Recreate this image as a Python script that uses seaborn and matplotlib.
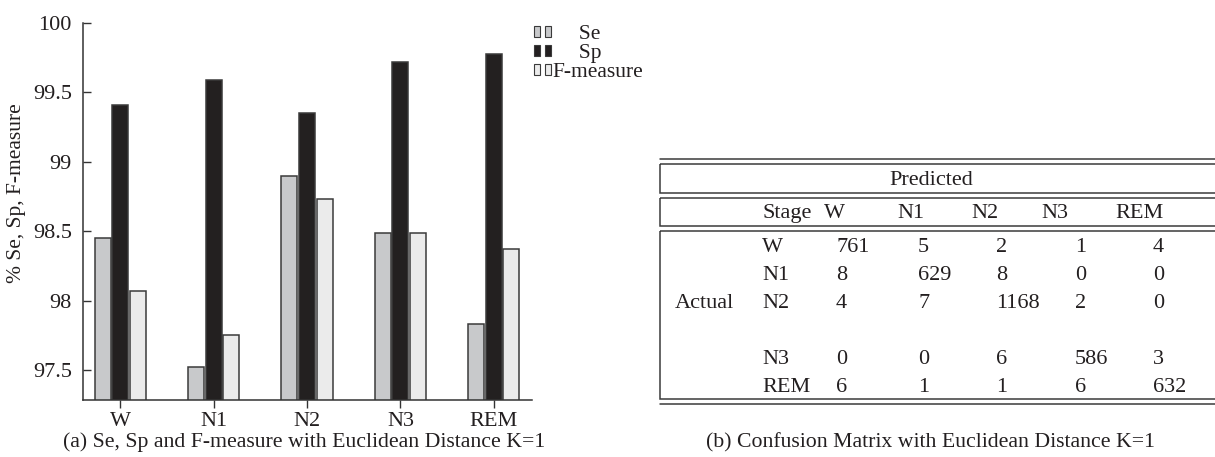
import matplotlib
matplotlib.use("Agg")
import matplotlib.pyplot as plt
import seaborn as sns
import pandas as pd
from matplotlib.patches import Patch, Rectangle
from matplotlib.lines import Line2D
from matplotlib.legend_handler import HandlerTuple

# ---------------- data ----------------
stages = ["W", "N1", "N2", "N3", "REM"]
se_values = [98.45, 97.52, 98.90, 98.49, 97.83]
sp_values = [99.41, 99.59, 99.35, 99.72, 99.78]
f_values = [98.07, 97.75, 98.73, 98.49, 98.37]
metric_names = ["Se", "Sp", "F-measure"]
ytick_values = [97.5, 98, 98.5, 99, 99.5, 100]
ytick_labels = ["97.5", "98", "98.5", "99", "99.5", "100"]

table_title = "Predicted"
table_header = ["Stage", "W", "N1", "N2", "N3", "REM"]
table_row_labels = ["W", "N1", "N2", "N3", "REM"]
conf_row_w = [761, 5, 2, 1, 4]
conf_row_n1 = [8, 629, 8, 0, 0]
conf_row_n2 = [4, 7, 1168, 2, 0]
conf_row_n3 = [0, 0, 6, 586, 3]
conf_row_rem = [6, 1, 1, 6, 632]
actual_label = "Actual"

caption_a = "(a) Se, Sp and F-measure with Euclidean Distance K=1"
caption_b = "(b) Confusion Matrix with Euclidean Distance K=1"

# ---------------- style ----------------
sns.set_style("white")
plt.rcParams["font.family"] = ["Liberation Serif", "DejaVu Serif"]
FS = 16
TXT = "#231f20"
colors = ["#c8c9cb", "#231f20", "#ebebeb"]

W_PX, H_PX = 1215, 457
fig = plt.figure(figsize=(W_PX / 100, H_PX / 100), dpi=100)

# ---------------- bar chart ----------------
ax_l, ax_r, ax_t, ax_b = 83, 532, 23, 400
ax = fig.add_axes([ax_l / W_PX, 1 - ax_b / H_PX, (ax_r - ax_l) / W_PX, (ax_b - ax_t) / H_PX])

df = pd.DataFrame({
    "stage": stages * 3,
    "metric": [m for m in metric_names for _ in stages],
    "value": se_values + sp_values + f_values,
})
sns.barplot(data=df, x="stage", y="value", hue="metric", order=stages,
            hue_order=metric_names, palette=colors, width=0.57, gap=0.1,
            edgecolor="#3a3a3a", linewidth=1.1, ax=ax, legend=False,
            errorbar=None)

ax.set_ylim(97.285, 100)
ax.set_xlim(-0.4, 4.41)
ax.set_yticks(ytick_values)
ax.set_yticklabels(ytick_labels)
ax.set_xlabel("")
ax.set_ylabel("% Se, Sp, F-measure", fontsize=15.5, color=TXT)
ax.yaxis.set_label_coords(-0.127, 0.55)
for s in ["top", "right"]:
    ax.spines[s].set_visible(False)
for s in ["left", "bottom"]:
    ax.spines[s].set_color("#333333")
    ax.spines[s].set_linewidth(1.1)
ax.tick_params(axis="y", direction="in", length=6, width=1, color="#333333",
               labelsize=FS, labelcolor=TXT, pad=8, left=True)
ax.tick_params(axis="x", direction="out", length=6, width=1, color="#333333",
               labelsize=FS, labelcolor=TXT, pad=3, bottom=True)

# legend with two-bar glyphs
handles = []
for c in colors:
    handles.append((Patch(facecolor=c, edgecolor="#3a3a3a", linewidth=0.8),
                    Patch(facecolor=c, edgecolor="#3a3a3a", linewidth=0.8)))
leg_labels = ["     Se", "     Sp", "F-measure"]
fig.legend(handles, leg_labels, loc="upper left",
           bbox_to_anchor=(534 / W_PX, 1 - 25 / H_PX),
           handler_map={tuple: HandlerTuple(ndivide=None, pad=0.2)},
           handlelength=0.8, handleheight=0.4, handletextpad=0.05,
           labelspacing=0.0, frameon=False, borderpad=0, borderaxespad=0,
           prop={"size": 15.5}, labelcolor=TXT)

# ---------------- table (pixel coordinates overlay) ----------------
tax = fig.add_axes([0, 0, 1, 1])
tax.set_xlim(0, W_PX)
tax.set_ylim(H_PX, 0)
tax.axis("off")
LC = "#3a3a3a"
LW = 1.1
x0, x1 = 660, W_PX + 20
tax.add_line(Line2D([x0, x1], [159.3, 159.3], color=LC, lw=LW))
for (ya, yb) in [(164, 192.7), (198.3, 226.3), (231, 399.3)]:
    tax.add_patch(Rectangle((x0, ya), x1 - x0, yb - ya, fill=False,
                            edgecolor=LC, lw=LW, clip_on=False))
tax.add_line(Line2D([x0, x1], [404.3, 404.3], color=LC, lw=LW))

tax.text(931, 185, table_title, ha="center", va="baseline", fontsize=FS, color=TXT)
tax.text(762, 218, table_header[0], ha="left", va="baseline", fontsize=FS, color=TXT)
header_centers = [834.5, 910.5, 985, 1055, 1140]
for xc, h in zip(header_centers, table_header[1:]):
    tax.text(xc, 218, h, ha="center", va="baseline", fontsize=FS, color=TXT)

rows = [conf_row_w, conf_row_n1, conf_row_n2, conf_row_n3, conf_row_rem]
row_baselines = [252, 280, 307.5, 364, 391.5]
data_left = [836, 918, 996, 1075, 1153]
for yb, lab, vals in zip(row_baselines, table_row_labels, rows):
    tax.text(762, yb, lab, ha="left", va="baseline", fontsize=FS, color=TXT)
    for xl, v in zip(data_left, vals):
        tax.text(xl, yb, str(v), ha="left", va="baseline", fontsize=FS, color=TXT)
tax.text(675, row_baselines[2], actual_label, ha="left", va="baseline", fontsize=FS, color=TXT)

# captions
tax.text(304, 447, caption_a, ha="center", va="baseline", fontsize=15.7, color=TXT)
tax.text(931, 447, caption_b, ha="center", va="baseline", fontsize=15.7, color=TXT)

fig.savefig("out.png", dpi=100)
